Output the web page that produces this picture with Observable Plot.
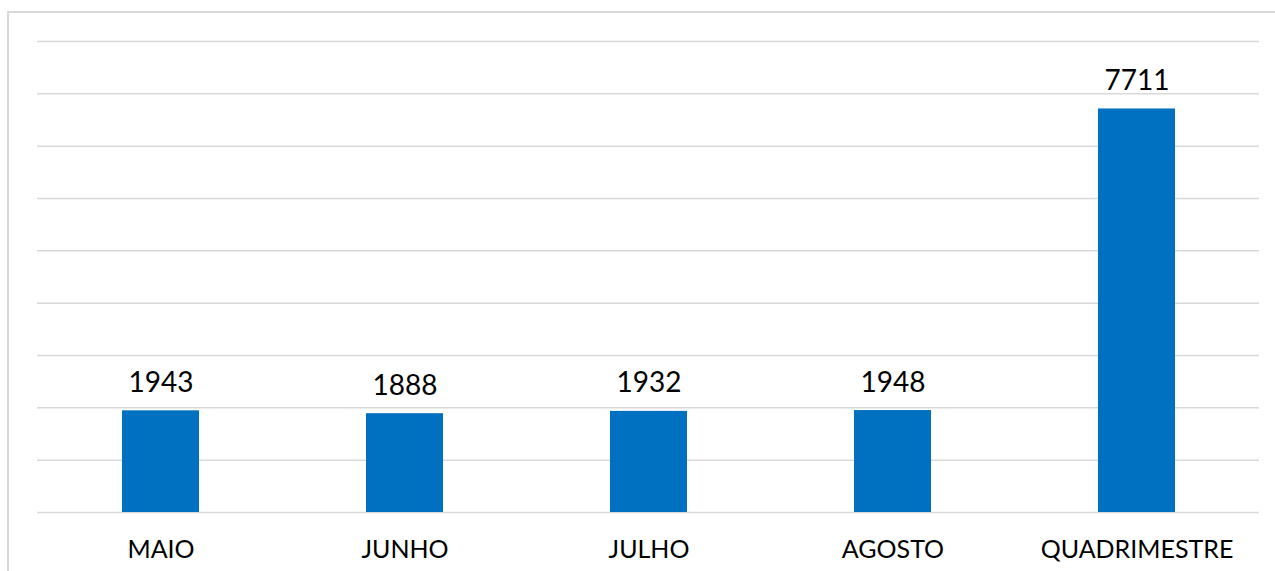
<!DOCTYPE html>
<html>
<head>
<meta charset="utf-8">
<script src="https://cdn.jsdelivr.net/npm/d3@7"></script>
<script src="https://cdn.jsdelivr.net/npm/@observablehq/plot@0.6"></script>
<style>
  html, body { margin: 0; padding: 0; background: #fff; overflow: hidden; }
  #wrap { position: relative; width: 1275px; height: 571px; }
  #border { position: absolute; left: 7px; top: 11px; width: 1300px; height: 600px; border: 2px solid #d9d9d9; box-sizing: border-box; }
  #chart { position: absolute; left: 0; top: 0; }
</style>
</head>
<body>
<div id="wrap"><div id="border"></div><div id="chart"></div></div>
<script>
const categories = ["MAIO", "JUNHO", "JULHO", "AGOSTO", "QUADRIMESTRE"];
const values = [1943, 1888, 1932, 1948, 7711];
const gridTicks = [0, 1000, 2000, 3000, 4000, 5000, 6000, 7000, 8000, 9000];

const data = categories.map((c, i) => ({ cat: c, value: values[i] }));

const chart = Plot.plot({
  width: 1275,
  height: 571,
  marginLeft: 37,
  marginRight: 16,
  marginTop: 41,
  marginBottom: 59,
  style: { fontFamily: "Lato, 'Open Sans', sans-serif", background: "transparent", color: "#000" },
  x: { domain: categories, paddingInner: 0.685, paddingOuter: 0.3425, align: 0.5 },
  y: { domain: [0, 9000] },
  marks: [
    Plot.ruleY(gridTicks, { stroke: "#d9d9d9", strokeWidth: 1.5 }),
    Plot.barY(data, { x: "cat", y: "value", fill: "#0070c0" }),
    Plot.text(data, { x: "cat", y: "value", text: d => String(d.value), lineAnchor: "bottom", dy: -19, fontSize: 28, fill: "#000" }),
    Plot.axisX({ tickSize: 0, tickPadding: 28, fontSize: 25, label: null, fill: "#000" }),
    Plot.axisY({ ticks: [], label: null, tickSize: 0 })
  ]
});
document.getElementById("chart").appendChild(chart);
</script>
</body>
</html>
